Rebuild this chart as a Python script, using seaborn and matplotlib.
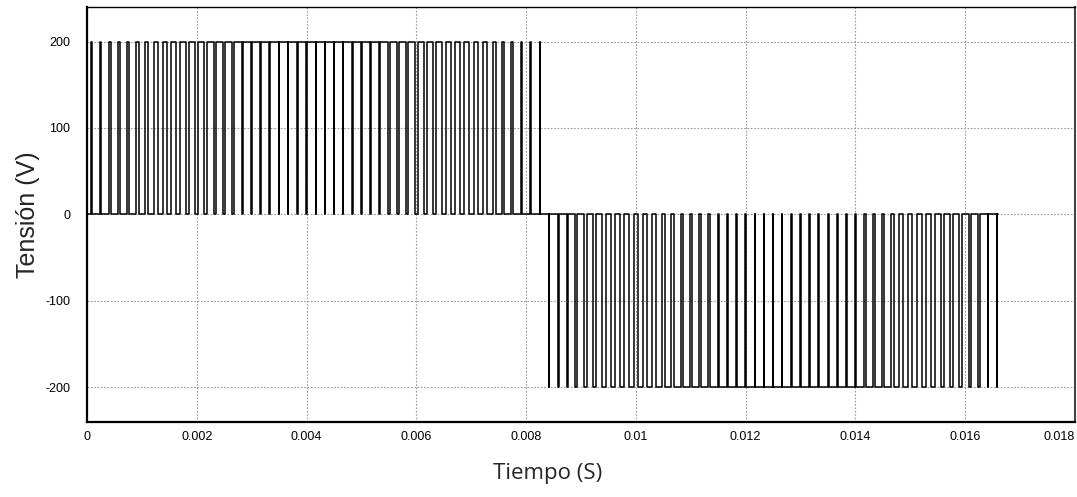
import matplotlib
matplotlib.use("Agg")
import matplotlib.pyplot as plt
import numpy as np
import pandas as pd
import seaborn as sns

# ---------------- data ----------------
half_period = 0.008333          # s, duration of each half cycle
n_pulses = 50                   # pulses per half cycle
t_end = 0.0166                  # s, end of the recorded trace
levels = [200, -200]            # V, pulse level in each half cycle
# duty of each pulse (fraction of its switching period)
duty_pos = [0.03, 0.09, 0.15, 0.21, 0.27, 0.33, 0.38, 0.44, 0.49, 0.54,
            0.59, 0.63, 0.68, 0.72, 0.76, 0.79, 0.83, 0.86, 0.88, 0.90,
            0.92, 0.94, 0.95, 0.96, 0.96, 0.96, 0.96, 0.95, 0.94, 0.92,
            0.90, 0.88, 0.86, 0.83, 0.79, 0.76, 0.72, 0.68, 0.63, 0.59,
            0.54, 0.49, 0.44, 0.38, 0.33, 0.27, 0.21, 0.15, 0.09, 0.03]
duty_neg = [0.03, 0.09, 0.15, 0.21, 0.27, 0.33, 0.38, 0.44, 0.49, 0.54,
            0.59, 0.63, 0.68, 0.72, 0.76, 0.79, 0.83, 0.86, 0.88, 0.90,
            0.92, 0.94, 0.95, 0.96, 0.96, 0.96, 0.96, 0.95, 0.94, 0.92,
            0.90, 0.88, 0.86, 0.83, 0.79, 0.76, 0.72, 0.68, 0.63, 0.59,
            0.54, 0.49, 0.44, 0.38, 0.33, 0.27, 0.21, 0.15, 0.09, 0.03]
x_ticks = [0, 0.002, 0.004, 0.006, 0.008, 0.010, 0.012, 0.014, 0.016, 0.018]
x_tick_labels = ["0", "0.002", "0.004", "0.006", "0.008", "0.01",
                 "0.012", "0.014", "0.016", "0.018"]
y_ticks = [-200, -100, 0, 100, 200]
y_tick_labels = ["-200", "-100", "0", "100", "200"]
x_label = "Tiempo (S)"
y_label = "Tensión (V)"

# ---------------- build the step trace from the pulse data ----------------
T = half_period / n_pulses
ts, vs = [0.0], [0.0]
for h, (lvl, duties) in enumerate(zip(levels, [duty_pos, duty_neg])):
    for k, d in enumerate(duties):
        c = h * half_period + (k + 0.5) * T
        a, b = c - d * T / 2, c + d * T / 2
        if a > t_end:
            break
        b = min(b, t_end)
        ts += [a, a, b, b]
        vs += [0, lvl, lvl, 0]
ts.append(t_end)
vs.append(0)
df = pd.DataFrame({"t": ts, "v": vs, "order": np.arange(len(ts))})

# ---------------- figure ----------------
sns.set_style("white")
plt.rcParams["font.family"] = ["Liberation Sans", "DejaVu Sans"]

W, H = 1077, 497
fig = plt.figure(figsize=(W / 100, H / 100), dpi=100)
L, R, Tp, B = 87, 1075, 7, 421.7
ax = fig.add_axes([L / W, (H - B) / H, (R - L) / W, (B - Tp) / H])

sns.lineplot(data=df, x="t", y="v", sort=False, estimator=None,
             color="black", linewidth=1.1, ax=ax)

ax.set_xlim(0, 0.018)
ax.set_ylim(-240, 240)
ax.set_xticks(x_ticks)
ax.set_xticklabels(x_tick_labels)
ax.set_yticks(y_ticks)
ax.set_yticklabels(y_tick_labels)
ax.tick_params(axis="both", length=0, labelsize=9, colors="black")
ax.tick_params(axis="y", pad=12)
ax.tick_params(axis="x", pad=7)
# last x label kept inside the figure, as in the reference
ax.get_xticklabels()[-1].set_horizontalalignment("right")
ax.grid(True, color="#9a9a9a", linestyle=(0, (1.5, 1.5)), linewidth=0.8)
ax.set_axisbelow(True)
ax.set_xlabel("")
ax.set_ylabel("")

for s in ["left", "bottom"]:
    ax.spines[s].set_color("black")
    ax.spines[s].set_linewidth(1.6)
ax.spines["top"].set_color("black")
ax.spines["top"].set_linewidth(1.0)
ax.spines["right"].set_color("#444444")
ax.spines["right"].set_linewidth(1.5)
for s in ax.spines.values():
    s.set_visible(True)

fig.text(28 / W, 1 - 215 / H, y_label, rotation=90, fontsize=18,
         ha="center", va="center", family=["Liberation Sans", "DejaVu Sans"])
fig.text(548 / W, 1 - 474 / H, x_label, fontsize=16,
         ha="center", va="center", family=["Open Sans", "DejaVu Sans"])

fig.savefig("out.png", dpi=100)
